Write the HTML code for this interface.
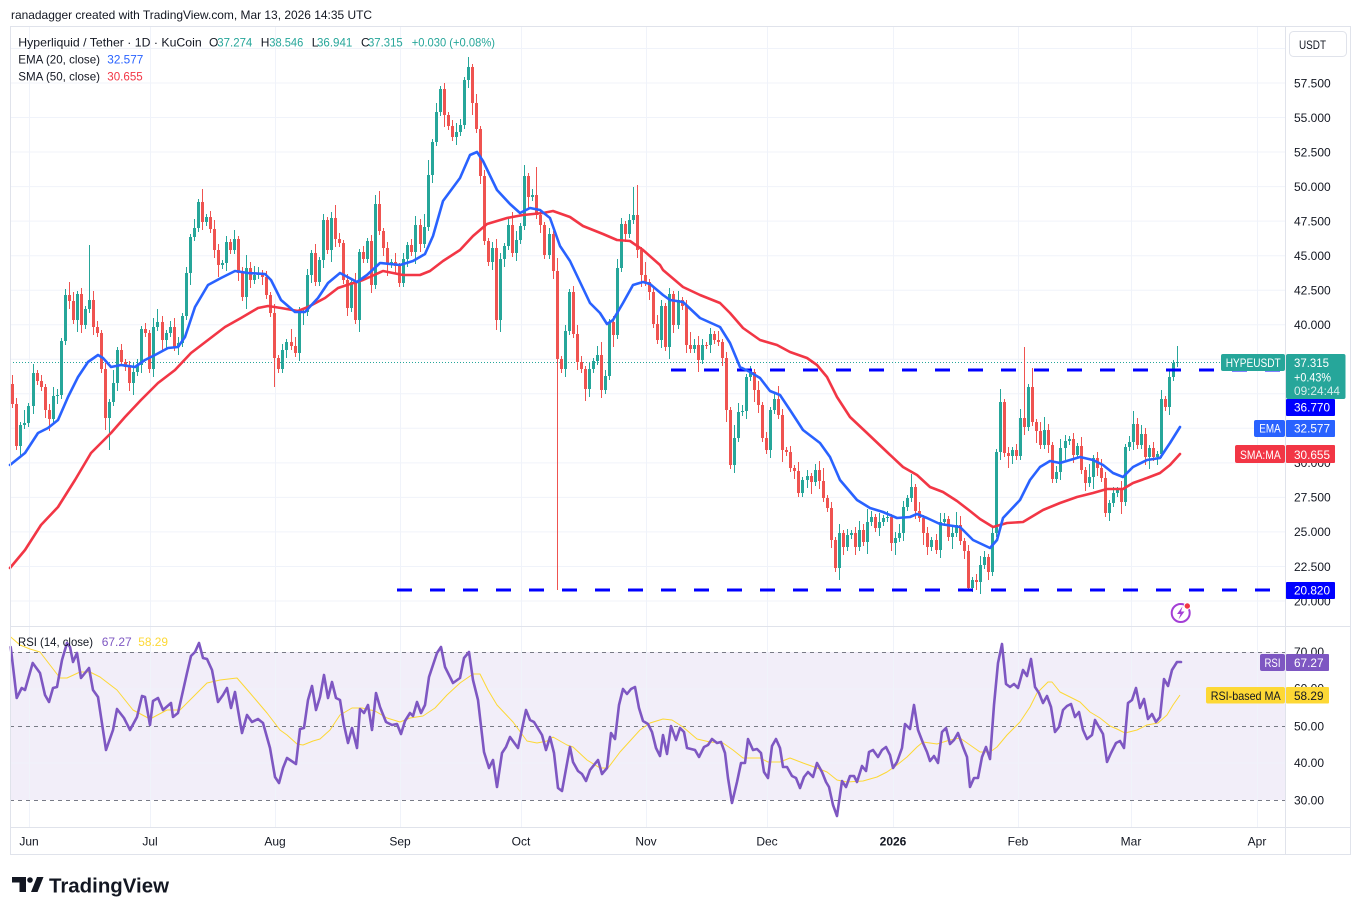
<!DOCTYPE html>
<html><head><meta charset="utf-8">
<style>
html,body{margin:0;padding:0;background:#fff;width:1361px;height:915px;overflow:hidden;position:relative}
svg{display:block;font-family:"Liberation Sans",Arial,sans-serif;position:absolute;left:0;top:0}
.cs{position:absolute;left:10.86px;top:0;width:1170.15px;height:915px;display:flex}
.cs i{position:relative;flex:1 1 0;min-width:0;height:100%;display:block;--u:3;--d:4}
.cs i:nth-child(2n){--u:6}
.cs i:nth-child(3n){--d:8}
.cs i:nth-child(5n+1){--u:9}
.cs i:nth-child(7n+3){--d:12}
.cs i:nth-child(11n+4){--u:13}
.cs i::before{content:"";position:absolute;left:1.5px;width:1px;top:calc((min(var(--o),var(--c)) - var(--u))*1px);height:calc((max(var(--o),var(--c)) - min(var(--o),var(--c)) + var(--u) + var(--d))*1px);background:currentColor}
.cs i::after{content:"";position:absolute;left:0.5px;width:3px;top:calc(min(var(--o),var(--c))*1px);height:calc(max(1px,(max(var(--o),var(--c)) - min(var(--o),var(--c)))*1px));background:currentColor}
.cs .g{color:#26a69a}.cs .r{color:#ef5350}
</style></head>
<body>
<svg width="1361" height="915" viewBox="0 0 1361 915" xmlns="http://www.w3.org/2000/svg">
<rect width="1361" height="915" fill="#fff"/>
<rect x="10" y="652" width="1275" height="148" fill="#7e57c2" fill-opacity="0.1"/>
<g stroke="#f0f3fa" stroke-width="1">
<line x1="10" x2="1285" y1="48.5" y2="48.5"/>
<line x1="10" x2="1285" y1="83" y2="83"/>
<line x1="10" x2="1285" y1="117.5" y2="117.5"/>
<line x1="10" x2="1285" y1="152" y2="152"/>
<line x1="10" x2="1285" y1="186.6" y2="186.6"/>
<line x1="10" x2="1285" y1="221.1" y2="221.1"/>
<line x1="10" x2="1285" y1="255.7" y2="255.7"/>
<line x1="10" x2="1285" y1="290.2" y2="290.2"/>
<line x1="10" x2="1285" y1="324.7" y2="324.7"/>
<line x1="10" x2="1285" y1="359.2" y2="359.2"/>
<line x1="10" x2="1285" y1="393.8" y2="393.8"/>
<line x1="10" x2="1285" y1="428.3" y2="428.3"/>
<line x1="10" x2="1285" y1="462.9" y2="462.9"/>
<line x1="10" x2="1285" y1="497.4" y2="497.4"/>
<line x1="10" x2="1285" y1="531.9" y2="531.9"/>
<line x1="10" x2="1285" y1="566.5" y2="566.5"/>
<line x1="10" x2="1285" y1="601" y2="601"/>
<line x1="10" x2="1285" y1="689" y2="689"/>
<line x1="10" x2="1285" y1="763" y2="763"/>
<line x1="29.5" x2="29.5" y1="27" y2="827"/>
<line x1="150.5" x2="150.5" y1="27" y2="827"/>
<line x1="275.5" x2="275.5" y1="27" y2="827"/>
<line x1="400.5" x2="400.5" y1="27" y2="827"/>
<line x1="521.5" x2="521.5" y1="27" y2="827"/>
<line x1="646.5" x2="646.5" y1="27" y2="827"/>
<line x1="767.5" x2="767.5" y1="27" y2="827"/>
<line x1="893.5" x2="893.5" y1="27" y2="827"/>
<line x1="1018.5" x2="1018.5" y1="27" y2="827"/>
<line x1="1131.5" x2="1131.5" y1="27" y2="827"/>
<line x1="1257.5" x2="1257.5" y1="27" y2="827"/>
</g>
<line x1="10" x2="1285" y1="362.5" y2="362.5" stroke="#26a69a" stroke-width="1" stroke-dasharray="1 2"/>
</svg>

<div class="cs">
<i class=r style="--o:384;--c:404"></i><i class=r style="--o:404;--c:446"></i><i class=g style="--o:446;--c:425"></i><i class=g style="--o:425;--c:423"></i>
<i class=g style="--o:423;--c:406"></i><i class=g style="--o:406;--c:373"></i><i class=r style="--o:373;--c:381"></i><i class=r style="--o:381;--c:387"></i><i class=r style="--o:387;--c:410"></i><i class=r style="--o:410;--c:419"></i><i class=g style="--o:419;--c:396"></i><i class=g style="--o:396;--c:395"></i><i class=g style="--o:395;--c:341"></i><i class=g style="--o:341;--c:295"></i>
<i class=r style="--o:295;--c:301"></i><i class=r style="--o:301;--c:320"></i><i class=g style="--o:320;--c:294"></i><i class=r style="--o:294;--c:325"></i><i class=g style="--o:325;--c:309"></i><i class=g style="--o:309;--c:300;--u:55"></i><i class=r style="--o:300;--c:327"></i><i class=r style="--o:327;--c:333"></i><i class=r style="--o:333;--c:369"></i><i class=r style="--o:369;--c:418"></i>
<i class=g style="--o:418;--c:402;--d:32"></i><i class=g style="--o:402;--c:383"></i><i class=g style="--o:383;--c:350"></i><i class=r style="--o:350;--c:362"></i><i class=r style="--o:362;--c:367"></i><i class=r style="--o:367;--c:383"></i><i class=g style="--o:383;--c:372"></i><i class=g style="--o:372;--c:365"></i><i class=g style="--o:365;--c:329"></i><i class=r style="--o:329;--c:333"></i>
<i class=r style="--o:333;--c:369"></i><i class=g style="--o:369;--c:327"></i><i class=g style="--o:327;--c:322"></i><i class=r style="--o:322;--c:340"></i><i class=g style="--o:340;--c:333"></i><i class=g style="--o:333;--c:327"></i><i class=r style="--o:327;--c:347"></i><i class=g style="--o:347;--c:343"></i><i class=g style="--o:343;--c:316"></i><i class=g style="--o:316;--c:273"></i>
<i class=g style="--o:273;--c:237"></i><i class=g style="--o:237;--c:228"></i><i class=g style="--o:228;--c:202"></i><i class=r style="--o:202;--c:222;--u:13"></i><i class=g style="--o:222;--c:217"></i><i class=r style="--o:217;--c:229"></i><i class=r style="--o:229;--c:250"></i><i class=r style="--o:250;--c:265"></i><i class=g style="--o:265;--c:263"></i><i class=g style="--o:263;--c:242"></i>
<i class=r style="--o:242;--c:250"></i><i class=g style="--o:250;--c:239"></i><i class=r style="--o:239;--c:273"></i><i class=r style="--o:273;--c:297"></i><i class=g style="--o:297;--c:268"></i><i class=r style="--o:268;--c:280"></i><i class=g style="--o:280;--c:275"></i><i class=g style="--o:275;--c:273"></i><i class=r style="--o:273;--c:277"></i><i class=r style="--o:277;--c:295"></i>
<i class=r style="--o:295;--c:313"></i><i class=r style="--o:313;--c:358;--d:29"></i><i class=r style="--o:358;--c:369"></i><i class=g style="--o:369;--c:350"></i><i class=g style="--o:350;--c:342"></i><i class=r style="--o:342;--c:346"></i><i class=r style="--o:346;--c:353"></i><i class=g style="--o:353;--c:313"></i><i class=g style="--o:313;--c:312"></i><i class=g style="--o:312;--c:275"></i>
<i class=g style="--o:275;--c:253"></i><i class=r style="--o:253;--c:282"></i><i class=g style="--o:282;--c:260"></i><i class=g style="--o:260;--c:220"></i><i class=r style="--o:220;--c:250"></i><i class=g style="--o:250;--c:218"></i><i class=r style="--o:218;--c:239"></i><i class=r style="--o:239;--c:243"></i><i class=r style="--o:243;--c:280"></i><i class=r style="--o:280;--c:308"></i>
<i class=g style="--o:308;--c:282"></i><i class=r style="--o:282;--c:320"></i><i class=g style="--o:320;--c:252"></i><i class=r style="--o:252;--c:259"></i><i class=g style="--o:259;--c:241"></i><i class=r style="--o:241;--c:285"></i><i class=g style="--o:285;--c:204"></i><i class=r style="--o:204;--c:231"></i><i class=r style="--o:231;--c:248"></i><i class=r style="--o:248;--c:264"></i>
<i class=g style="--o:264;--c:262"></i><i class=r style="--o:262;--c:266"></i><i class=r style="--o:266;--c:283"></i><i class=g style="--o:283;--c:259"></i><i class=g style="--o:259;--c:245"></i><i class=r style="--o:245;--c:252"></i><i class=g style="--o:252;--c:225"></i><i class=r style="--o:225;--c:244"></i><i class=g style="--o:244;--c:227"></i><i class=g style="--o:227;--c:175;--u:15"></i>
<i class=g style="--o:175;--c:142"></i><i class=g style="--o:142;--c:112"></i><i class=g style="--o:112;--c:89"></i><i class=r style="--o:89;--c:115"></i><i class=r style="--o:115;--c:126"></i><i class=r style="--o:126;--c:137"></i><i class=g style="--o:137;--c:132"></i><i class=g style="--o:132;--c:125"></i><i class=g style="--o:125;--c:80"></i><i class=g style="--o:80;--c:67;--u:10"></i>
<i class=r style="--o:67;--c:103"></i><i class=r style="--o:103;--c:129"></i><i class=r style="--o:129;--c:176"></i><i class=r style="--o:176;--c:241"></i><i class=r style="--o:241;--c:262"></i><i class=g style="--o:262;--c:248"></i><i class=r style="--o:248;--c:320;--d:10"></i><i class=g style="--o:320;--c:259"></i><i class=g style="--o:259;--c:246"></i><i class=g style="--o:246;--c:225"></i>
<i class=r style="--o:225;--c:253"></i><i class=g style="--o:253;--c:240"></i><i class=g style="--o:240;--c:226"></i><i class=g style="--o:226;--c:176;--u:11"></i><i class=r style="--o:176;--c:197"></i><i class=g style="--o:197;--c:195"></i><i class=r style="--o:195;--c:215;--u:28"></i><i class=r style="--o:215;--c:225"></i><i class=r style="--o:225;--c:255"></i><i class=g style="--o:255;--c:234"></i>
<i class=r style="--o:234;--c:271"></i><i class=r style="--o:271;--c:359;--d:231"></i><i class=r style="--o:359;--c:369"></i><i class=g style="--o:369;--c:331"></i><i class=g style="--o:331;--c:292"></i><i class=r style="--o:292;--c:334"></i><i class=r style="--o:334;--c:362"></i><i class=r style="--o:362;--c:369"></i><i class=r style="--o:369;--c:389"></i><i class=g style="--o:389;--c:369"></i>
<i class=g style="--o:369;--c:361"></i><i class=g style="--o:361;--c:355"></i><i class=r style="--o:355;--c:390"></i><i class=g style="--o:390;--c:376"></i><i class=g style="--o:376;--c:322"></i><i class=r style="--o:322;--c:335"></i><i class=g style="--o:335;--c:268"></i><i class=g style="--o:268;--c:224"></i><i class=r style="--o:224;--c:234"></i><i class=g style="--o:234;--c:220"></i>
<i class=g style="--o:220;--c:215;--u:28"></i><i class=r style="--o:215;--c:250;--u:30"></i><i class=r style="--o:250;--c:275"></i><i class=r style="--o:275;--c:282"></i><i class=r style="--o:282;--c:292"></i><i class=r style="--o:292;--c:324"></i><i class=r style="--o:324;--c:340"></i><i class=g style="--o:340;--c:306"></i><i class=r style="--o:306;--c:347"></i><i class=g style="--o:347;--c:294"></i>
<i class=r style="--o:294;--c:325"></i><i class=g style="--o:325;--c:300"></i><i class=r style="--o:300;--c:306"></i><i class=r style="--o:306;--c:345"></i><i class=r style="--o:345;--c:349"></i><i class=g style="--o:349;--c:345"></i><i class=r style="--o:345;--c:360"></i><i class=g style="--o:360;--c:345"></i><i class=r style="--o:345;--c:345"></i><i class=g style="--o:345;--c:334"></i>
<i class=r style="--o:334;--c:340"></i><i class=r style="--o:340;--c:342"></i><i class=r style="--o:342;--c:358"></i><i class=r style="--o:358;--c:410"></i><i class=r style="--o:410;--c:465"></i><i class=g style="--o:465;--c:438"></i><i class=g style="--o:438;--c:412"></i><i class=g style="--o:412;--c:411"></i><i class=g style="--o:411;--c:377"></i><i class=g style="--o:377;--c:372"></i>
<i class=r style="--o:372;--c:390"></i><i class=r style="--o:390;--c:405"></i><i class=r style="--o:405;--c:438"></i><i class=r style="--o:438;--c:450"></i><i class=g style="--o:450;--c:410"></i><i class=g style="--o:410;--c:399"></i><i class=r style="--o:399;--c:415"></i><i class=r style="--o:415;--c:450"></i><i class=r style="--o:450;--c:452"></i><i class=r style="--o:452;--c:468"></i>
<i class=r style="--o:468;--c:471"></i><i class=r style="--o:471;--c:493"></i><i class=g style="--o:493;--c:480"></i><i class=g style="--o:480;--c:476"></i><i class=r style="--o:476;--c:482"></i><i class=g style="--o:482;--c:470"></i><i class=r style="--o:470;--c:481"></i><i class=r style="--o:481;--c:498"></i><i class=r style="--o:498;--c:508"></i><i class=r style="--o:508;--c:540"></i>
<i class=r style="--o:540;--c:568"></i><i class=g style="--o:568;--c:533"></i><i class=r style="--o:533;--c:547"></i><i class=g style="--o:547;--c:535"></i><i class=g style="--o:535;--c:533"></i><i class=r style="--o:533;--c:547"></i><i class=g style="--o:547;--c:530"></i><i class=r style="--o:530;--c:542"></i><i class=g style="--o:542;--c:522"></i><i class=g style="--o:522;--c:517"></i>
<i class=r style="--o:517;--c:528"></i><i class=g style="--o:528;--c:522"></i><i class=g style="--o:522;--c:518"></i><i class=g style="--o:518;--c:517"></i><i class=r style="--o:517;--c:543"></i><i class=g style="--o:543;--c:538"></i><i class=g style="--o:538;--c:533"></i><i class=g style="--o:533;--c:507"></i><i class=g style="--o:507;--c:498"></i><i class=g style="--o:498;--c:487"></i>
<i class=r style="--o:487;--c:511"></i><i class=r style="--o:511;--c:518"></i><i class=r style="--o:518;--c:533"></i><i class=r style="--o:533;--c:547"></i><i class=g style="--o:547;--c:540"></i><i class=r style="--o:540;--c:550"></i><i class=g style="--o:550;--c:522"></i><i class=g style="--o:522;--c:519"></i><i class=r style="--o:519;--c:537"></i><i class=g style="--o:537;--c:533"></i>
<i class=g style="--o:533;--c:525"></i><i class=r style="--o:525;--c:541"></i><i class=r style="--o:541;--c:551"></i><i class=r style="--o:551;--c:588;--d:2"></i><i class=g style="--o:588;--c:580"></i><i class=r style="--o:580;--c:582"></i><i class=g style="--o:582;--c:565"></i><i class=g style="--o:565;--c:557"></i><i class=r style="--o:557;--c:572"></i><i class=g style="--o:572;--c:533"></i>
<i class=g style="--o:533;--c:452"></i><i class=g style="--o:452;--c:402"></i><i class=r style="--o:402;--c:453"></i><i class=r style="--o:453;--c:456"></i><i class=g style="--o:456;--c:450"></i><i class=r style="--o:450;--c:456"></i><i class=g style="--o:456;--c:418"></i><i class=r style="--o:418;--c:427;--u:71"></i><i class=g style="--o:427;--c:387"></i><i class=r style="--o:387;--c:422;--u:19"></i>
<i class=r style="--o:422;--c:431"></i><i class=r style="--o:431;--c:445"></i><i class=g style="--o:445;--c:430"></i><i class=r style="--o:430;--c:445"></i><i class=r style="--o:445;--c:479"></i><i class=g style="--o:479;--c:472"></i><i class=g style="--o:472;--c:448"></i><i class=g style="--o:448;--c:441"></i><i class=g style="--o:441;--c:439"></i><i class=r style="--o:439;--c:455"></i>
<i class=g style="--o:455;--c:446"></i><i class=r style="--o:446;--c:470"></i><i class=r style="--o:470;--c:483"></i><i class=g style="--o:483;--c:477"></i><i class=g style="--o:477;--c:458"></i><i class=r style="--o:458;--c:468"></i><i class=r style="--o:468;--c:478"></i><i class=r style="--o:478;--c:513"></i><i class=g style="--o:513;--c:503"></i><i class=g style="--o:503;--c:493"></i>
<i class=g style="--o:493;--c:490"></i><i class=r style="--o:490;--c:502"></i><i class=g style="--o:502;--c:447"></i><i class=g style="--o:447;--c:442"></i><i class=g style="--o:442;--c:424"></i><i class=r style="--o:424;--c:445"></i><i class=g style="--o:445;--c:434"></i><i class=r style="--o:434;--c:457"></i><i class=g style="--o:457;--c:448"></i><i class=r style="--o:448;--c:457"></i>
<i class=g style="--o:457;--c:454"></i><i class=g style="--o:454;--c:399"></i><i class=r style="--o:399;--c:407"></i><i class=g style="--o:407;--c:377"></i><i class=g style="--o:377;--c:363"></i><i class=g style="--o:363;--c:362;--u:16;--d:4"></i>
</div>

<svg width="1361" height="915" viewBox="0 0 1361 915" xmlns="http://www.w3.org/2000/svg">
<text x="11" y="19" font-size="12" fill="#131722" textLength="361" lengthAdjust="spacingAndGlyphs">ranadagger created with TradingView.com, Mar 13, 2026 14:35 UTC</text>

<g stroke="#787b86" stroke-width="1" stroke-dasharray="4 4">
<line x1="10" x2="1285" y1="652.5" y2="652.5"/>
<line x1="10" x2="1285" y1="726.5" y2="726.5"/>
<line x1="10" x2="1285" y1="800.5" y2="800.5"/>
</g>

<line x1="671" x2="1282" y1="370" y2="370" stroke="#0000ff" stroke-width="3" stroke-dasharray="15 18"/>
<line x1="397" x2="1272" y1="590" y2="590" stroke="#0000ff" stroke-width="3" stroke-dasharray="15 18"/>

<polyline fill="none" stroke="#f23645" stroke-width="2.6" stroke-linejoin="round" stroke-linecap="round" points="10,568 25,550 41,525 58,507 75,480 91,453 101,443 111,433 125,417 141,400 158,383 175,370 191,353 208,340 225,327 241,318 258,308 268,306 281,308 298,311 308,307 325,298 338,288 347,285 363,280 383,271 403,275 420,275 430,271 443,261 460,250 473,236 487,224 507,218 523,215 543,213 553,211 570,217 583,226 603,234 617,240 630,241 643,250 660,265 663,270 683,287 700,295 720,303 730,313 743,328 760,340 777,345 790,352 807,358 817,365 827,377 837,397 850,417 867,433 887,452 903,467 917,475 930,487 943,492 957,501 970,511 980,519 993,527 1007,523 1023,522 1043,510 1060,503 1077,497 1093,493 1107,489 1123,489 1133,483 1147,478 1160,473 1170,465 1180,454"/>
<polyline fill="none" stroke="#2962ff" stroke-width="2.6" stroke-linejoin="round" stroke-linecap="round" points="10,465 25,453 38,433 48,428 58,420 68,397 78,377 88,362 98,355 103,358 111,367 121,365 135,367 145,360 155,355 168,348 178,347 185,337 195,307 208,285 221,278 235,271 248,273 265,274 271,280 281,300 295,312 305,312 318,298 328,283 340,273 357,282 367,275 380,263 400,265 413,261 425,254 433,236 443,201 460,178 470,155 477,152 483,161 497,190 510,204 520,213 530,208 540,210 550,218 560,246 570,261 580,282 590,303 600,313 607,324 613,320 623,303 633,285 643,282 650,284 663,295 670,300 683,302 700,318 720,327 730,343 740,367 750,372 760,378 770,391 780,395 790,410 803,430 820,443 830,457 840,480 857,500 870,508 883,512 897,518 910,517 917,514 927,518 940,524 960,527 973,540 990,548 997,540 1003,518 1020,500 1030,480 1040,467 1050,461 1060,463 1070,460 1080,457 1093,460 1103,465 1113,473 1123,477 1133,467 1147,460 1160,458 1170,443 1180,427"/>

<polyline fill="none" stroke="#fdd835" stroke-width="1" stroke-linejoin="round" points="10.7,637 20,645 30,649 40,652 50,665 60,678 67,678 80,672 90,672 100,677 117,690 133,710 150,719 167,710 180,710 193,697 207,683 220,680 237,678 250,693 267,713 280,730 287,735 297,744 303,745 313,741 320,739 330,730 340,715 352,708 362,708 375,711 387,718 400,722 410,718 423,716 435,708 447,695 460,683 473,674 480,674 488,690 497,705 513,722 527,741 537,743 547,741 553,737 567,745 573,747 587,760 600,768 608,768 620,752 630,741 640,730 650,723 663,719 672,720 683,727 697,739 710,742 723,743 733,750 743,758 760,758 768,762 780,762 790,758 803,763 817,768 827,772 837,780 847,782 863,781 877,777 887,772 897,765 907,757 917,747 923,742 937,744 950,740 960,738 970,745 980,752 990,752 997,747 1007,735 1020,722 1030,707 1037,693 1043,687 1048,682 1052,682 1060,692 1070,697 1080,702 1090,712 1100,718 1110,726 1117,729 1125,733 1137,730 1147,725 1158,723 1167,715 1173,705 1180,695"/>
<polyline fill="none" stroke="#7e57c2" stroke-width="2.6" stroke-linejoin="round" stroke-linecap="round" points="10.7,647 16.7,698 21.7,688 25,690 32.7,663 40,673 45,695 49,702 53,688 57,687 62,660 67,643 70,647 73,662 77,653 81,678 89,668 93,690 98,697 106,750 113,730 117,709 124,718 130,730 137,717 142,696 145,697 150,725 153,701 158,698 163,710 171,703 173,717 178,713 187,673 191,656 195,652 199,643 203,658 207,659 212,670 218,702 223,695 227,688 231,708 235,692 238,710 242,733 247,715 252,722 258,719 263,723 270,748 275,777 279,783 283,768 287,758 296,764 300,729 304,728 308,700 312,686 316,710 320,697 324,675 328,698 332,682 336,698 340,700 344,725 348,743 352,728 357,748 360,709 364,713 368,705 372,730 376,693 380,707 386,722 392,725 397,724 401,734 405,721 410,713 413,716 417,702 421,713 425,705 429,677 433,665 437,653 441,647 445,667 453,683 460,678 464,658 469,652 473,680 478,700 484,752 489,768 493,760 497,787 502,753 506,747 510,737 518,748 526,710 530,720 534,722 542,735 546,750 550,737 554,753 558,788 562,791 570,747 573,762 578,771 582,774 586,781 590,770 598,760 602,774 607,768 611,733 615,739 619,705 623,689 627,694 631,689 635,687 639,708 643,721 648,724 652,732 656,748 660,756 663,735 667,754 671,726 676,740 680,728 684,732 687,748 695,750 699,757 704,747 708,745 712,739 717,743 721,742 725,753 728,778 732,803 737,782 741,763 745,763 748,739 753,750 757,749 761,753 764,772 768,778 772,746 776,739 780,748 783,767 787,767 792,776 796,778 800,788 804,777 808,772 813,777 817,763 822,772 826,782 829,787 833,805 837,816 842,781 846,787 850,776 854,776 857,782 862,766 866,771 869,752 873,750 878,757 882,750 886,747 890,755 893,768 897,762 902,748 905,724 910,729 914,705 918,730 923,743 927,752 930,761 934,756 938,763 942,732 946,728 950,744 954,740 958,733 963,747 967,757 970,787 974,778 978,778 982,757 986,747 990,759 994,705 998,663 1002,644 1006,684 1010,687 1014,684 1018,688 1023,670 1027,676 1031,659 1035,687 1039,693 1043,703 1047,696 1051,707 1055,732 1059,727 1063,710 1067,706 1071,704 1075,717 1079,712 1083,730 1087,739 1092,735 1095,720 1099,727 1103,734 1107,762 1111,753 1116,743 1120,741 1124,748 1128,703 1132,700 1136,688 1140,708 1144,699 1148,719 1152,714 1156,722 1160,717 1164,679 1168,686 1172,670 1177,662 1181,662"/>

<circle cx="1180.7" cy="613" r="9" fill="#fff" stroke="#a43fd6" stroke-width="2"/>
<path d="M1182.5,606.5 L1177,614 L1180.5,614 L1178.5,619.5 L1184.5,611.5 L1181,611.5 Z" fill="#a43fd6"/>
<circle cx="1187.3" cy="606" r="3.2" fill="#f23645" stroke="#fff" stroke-width="1"/>

<g stroke="#e0e3eb" stroke-width="1" fill="none">
<rect x="10.5" y="26.5" width="1340" height="828"/>
<line x1="10" x2="1351" y1="626.5" y2="626.5"/>
<line x1="10" x2="1351" y1="827.5" y2="827.5"/>
<line x1="1285.5" x2="1285.5" y1="27" y2="855"/>
</g>

<g font-size="12" fill="#131722">
<text x="18.3" y="46.5" textLength="183.4" lengthAdjust="spacingAndGlyphs">Hyperliquid / Tether · 1D · KuCoin</text>
<text x="209" y="46.5">O</text>
<text x="217.3" y="46.5" fill="#26a69a" textLength="35" lengthAdjust="spacingAndGlyphs">37.274</text>
<text x="260.7" y="46.5">H</text>
<text x="269.3" y="46.5" fill="#26a69a" textLength="34" lengthAdjust="spacingAndGlyphs">38.546</text>
<text x="311.7" y="46.5">L</text>
<text x="317" y="46.5" fill="#26a69a" textLength="35.3" lengthAdjust="spacingAndGlyphs">36.941</text>
<text x="361" y="46.5">C</text>
<text x="368" y="46.5" fill="#26a69a" textLength="34.7" lengthAdjust="spacingAndGlyphs">37.315</text>
<text x="411.7" y="46.5" fill="#26a69a" textLength="83.3" lengthAdjust="spacingAndGlyphs">+0.030 (+0.08%)</text>
<text x="18.3" y="63.5" textLength="81.7" lengthAdjust="spacingAndGlyphs">EMA (20, close)</text>
<text x="107.3" y="63.5" fill="#2962ff" textLength="36" lengthAdjust="spacingAndGlyphs">32.577</text>
<text x="18.3" y="80.3" textLength="81.7" lengthAdjust="spacingAndGlyphs">SMA (50, close)</text>
<text x="107.3" y="80.3" fill="#f23645" textLength="35.4" lengthAdjust="spacingAndGlyphs">30.655</text>
<text x="18" y="646" textLength="75" lengthAdjust="spacingAndGlyphs">RSI (14, close)</text>
<text x="101.7" y="646" fill="#7e57c2" textLength="30" lengthAdjust="spacingAndGlyphs">67.27</text>
<text x="138.3" y="646" fill="#fdd835" textLength="29.7" lengthAdjust="spacingAndGlyphs">58.29</text>
</g>

<rect x="1289.5" y="31.5" width="57" height="25" rx="4" fill="#fff" stroke="#e0e3eb"/>
<text x="1299" y="49" font-size="12" fill="#131722" textLength="27" lengthAdjust="spacingAndGlyphs">USDT</text>
<g font-size="12" fill="#131722">
<text x="1294" y="87.3">57.500</text>
<text x="1294" y="121.8">55.000</text>
<text x="1294" y="156.3">52.500</text>
<text x="1294" y="190.9">50.000</text>
<text x="1294" y="225.4">47.500</text>
<text x="1294" y="260">45.000</text>
<text x="1294" y="294.5">42.500</text>
<text x="1294" y="329">40.000</text>
<text x="1294" y="467.2">30.000</text>
<text x="1294" y="501.7">27.500</text>
<text x="1294" y="536.2">25.000</text>
<text x="1294" y="570.8">22.500</text>
<text x="1294" y="605.3">20.000</text>
<text x="1294" y="656">70.00</text>
<text x="1294" y="692.5">60.00</text>
<text x="1294" y="730.3">50.00</text>
<text x="1294" y="767">40.00</text>
<text x="1294" y="804.3">30.00</text>
</g>

<g font-size="12" fill="#fff">
<rect x="1221" y="354" width="64" height="17" rx="2" fill="#26a69a"/>
<text x="1225.7" y="367" textLength="55" lengthAdjust="spacingAndGlyphs">HYPEUSDT</text>
<rect x="1286" y="354" width="59.5" height="45" rx="2" fill="#26a69a"/>
<text x="1294" y="367" textLength="35" lengthAdjust="spacingAndGlyphs">37.315</text>
<text x="1294" y="381.3" textLength="37" lengthAdjust="spacingAndGlyphs">+0.43%</text>
<text x="1294" y="395" fill-opacity="0.8" textLength="46" lengthAdjust="spacingAndGlyphs">09:24:44</text>
<rect x="1286" y="399" width="49" height="17" rx="1" fill="#0000ff"/>
<text x="1294" y="411.7" textLength="36" lengthAdjust="spacingAndGlyphs">36.770</text>
<rect x="1254" y="420" width="31" height="17" rx="2" fill="#2962ff"/>
<text x="1259.3" y="432.6" textLength="21.4" lengthAdjust="spacingAndGlyphs">EMA</text>
<rect x="1286" y="420" width="49" height="17" rx="1" fill="#2962ff"/>
<text x="1294" y="432.6" textLength="36" lengthAdjust="spacingAndGlyphs">32.577</text>
<rect x="1235" y="445" width="50" height="18" rx="2" fill="#f23645"/>
<text x="1240" y="459.2" textLength="40.7" lengthAdjust="spacingAndGlyphs">SMA:MA</text>
<rect x="1286" y="445" width="49" height="18" rx="1" fill="#f23645"/>
<text x="1294" y="459.2" textLength="36" lengthAdjust="spacingAndGlyphs">30.655</text>
<rect x="1286" y="582" width="49" height="17" rx="1" fill="#0000ff"/>
<text x="1294" y="594.5" textLength="36" lengthAdjust="spacingAndGlyphs">20.820</text>
<rect x="1260" y="654" width="25" height="17" rx="2" fill="#7e57c2"/>
<text x="1264.5" y="667" textLength="16" lengthAdjust="spacingAndGlyphs">RSI</text>
<rect x="1286" y="654" width="43" height="17" rx="1" fill="#7e57c2"/>
<text x="1294" y="667" textLength="29.5" lengthAdjust="spacingAndGlyphs">67.27</text>
<rect x="1206" y="687" width="79" height="16.5" rx="2" fill="#fdd835"/>
<text x="1210.7" y="700" fill="#131722" textLength="70" lengthAdjust="spacingAndGlyphs">RSI-based MA</text>
<rect x="1286" y="687" width="43" height="16.5" rx="1" fill="#fdd835"/>
<text x="1294" y="700" fill="#131722" textLength="29.5" lengthAdjust="spacingAndGlyphs">58.29</text>
</g>

<g font-size="12" fill="#131722" text-anchor="middle">
<text x="29" y="845.5">Jun</text>
<text x="150" y="845.5">Jul</text>
<text x="275" y="845.5">Aug</text>
<text x="400" y="845.5">Sep</text>
<text x="521" y="845.5">Oct</text>
<text x="646" y="845.5">Nov</text>
<text x="767" y="845.5">Dec</text>
<text x="893" y="845.5" font-weight="bold">2026</text>
<text x="1018" y="845.5">Feb</text>
<text x="1131" y="845.5">Mar</text>
<text x="1257" y="845.5">Apr</text>
</g>

<g fill="#131722">
<path d="M12,877 H26 V892 H19.5 V882.5 H12 Z"/>
<circle cx="30" cy="880" r="2.8"/>
<path d="M31,892 L37,877 H43.5 L37.5,892 Z"/>
<text x="49" y="892.5" font-size="20" font-weight="bold" textLength="120" lengthAdjust="spacingAndGlyphs">TradingView</text>
</g>
</svg>
</body></html>
